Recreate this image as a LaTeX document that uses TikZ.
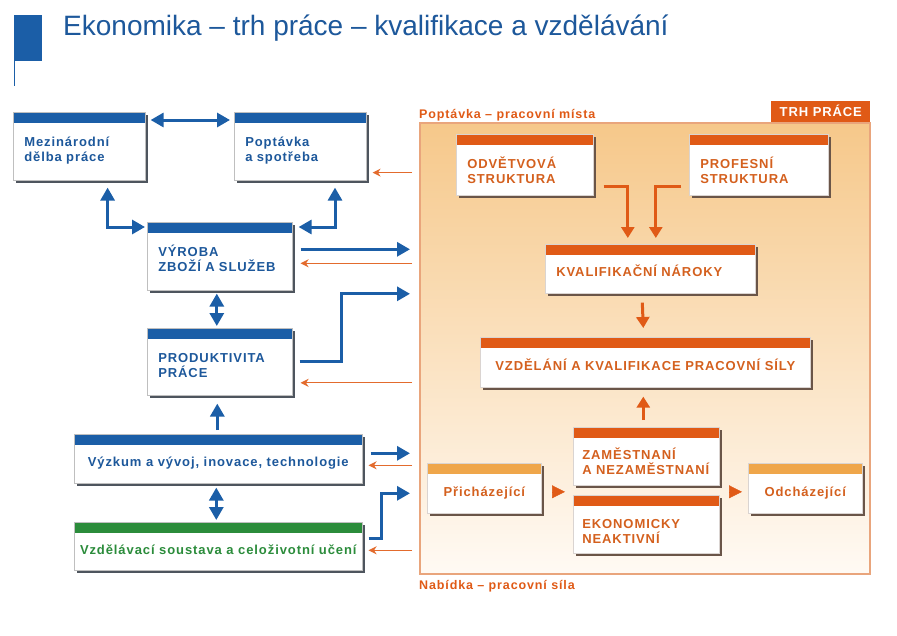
\documentclass[tikz,border=0pt]{standalone}
\usepackage{fontspec}
\setmainfont{Liberation Sans}
\newfontfamily\boxfont[LetterSpace=7]{Liberation Sans}
\usetikzlibrary{arrows.meta, calc, shadows}
\definecolor{cblue}{HTML}{1B5EA7}
\definecolor{ctext}{HTML}{1D589B}
\definecolor{cgreen}{HTML}{2B8C3B}
\definecolor{corange}{HTML}{E05A16}
\definecolor{clight}{HTML}{EFA64A}
\definecolor{cotext}{HTML}{D4601E}
\definecolor{cshadow}{HTML}{4E555E}
\definecolor{cbrown}{HTML}{6A5548}
\definecolor{cpanel}{HTML}{E9A57C}
\definecolor{ctop}{HTML}{F6C88A}
\definecolor{cmid}{HTML}{FBE6CB}
\definecolor{cbot}{HTML}{FFFAF4}
\tikzset{
  topgap/.store in=\boxgap, topgap=20pt,
  box/.style n args={2}{rectangle, anchor=north west, fill=white, draw=black!25, line width=0.6pt,
    inner xsep=11pt, inner ysep=0pt, align=left,
    font=\boxfont\bfseries\fontsize{13}{15}\selectfont,
    drop shadow={shadow xshift=3pt, shadow yshift=-3pt, fill=#2, opacity=1},
    path picture={\fill[#1] (path picture bounding box.north west) rectangle ([yshift=-11pt]path picture bounding box.north east);},
    execute at begin node={\rule{0pt}{\boxgap}},
    execute at end node={\rule[-4pt]{0pt}{0pt}}},
  bluebox/.style={box={cblue}{cshadow}, text=ctext},
  greenbox/.style={box={cgreen}{cshadow}, text=cgreen},
  orangebox/.style={box={corange}{cbrown}, text=cotext, draw=cbrown!25},
  lightbox/.style={box={clight}{cbrown}, text=cotext, draw=cbrown!25},
  panel/.style={rectangle, anchor=north west, draw=cpanel, line width=1.5pt, inner sep=0pt,
    top color=ctop, middle color=cmid, bottom color=cbot},
  side/.style={anchor=base west, inner sep=0pt, text=corange, font=\boxfont\bfseries\fontsize{12.5}{15}\selectfont},
  barrow/.style={draw=cblue, line width=3pt, -{Triangle[length=13pt,width=14pt]}},
  bboth/.style={draw=cblue, line width=3pt, {Triangle[length=13pt,width=14pt]}-{Triangle[length=13pt,width=14pt]}},
  oback/.style={draw=corange!90!white, line width=1.2pt, -{Stealth[length=8pt,width=8pt]}},
  oarrow/.style={draw=corange, line width=3pt, -{Triangle[length=11pt,width=13pt]}},
  otri/.style={draw=corange, line width=0.5pt, -{Triangle[length=13pt,width=13pt]}},
}
\begin{document}
\begin{tikzpicture}[x=1pt, y=-1pt]
  \useasboundingbox[fill=white] (0,0) rectangle (897,635);
  % title
  \fill[cblue] (14,15) rectangle (42,61);
  \draw[cblue, line width=1pt] (14.5,61) -- (14.5,86);
  \node[anchor=base west, inner sep=0pt, text=ctext, font=\fontsize{28}{32}\selectfont] (title) at (63,35)
    {Ekonomika – trh práce – kvalifikace a vzdělávání};

  % labour market panel
  \node[panel, minimum width=450pt, minimum height=451pt] (trh) at (419,122) {};
  \node[anchor=south east, fill=corange, text=white, inner sep=0pt, minimum width=99pt, minimum height=21pt,
    font=\boxfont\bfseries\fontsize{13}{15}\selectfont] (trhlab) at (trh.north east) {TRH PRÁCE};
  \node[side] (poptlab) at ($(trh.north west)+(0,4pt)$) {Poptávka – pracovní místa};
  \node[side] (nablab) at ($(trh.south west)+(0,-15pt)$) {Nabídka – pracovní síla};

  % left boxes
  \node[bluebox, text width=110pt, minimum height=68pt] (mez) at (13,112) {Mezinárodní\\dělba práce};
  \node[bluebox, text width=110pt, minimum height=68pt] (popt) at (234,112) {Poptávka\\a spotřeba};
  \node[bluebox, text width=123pt, minimum height=68pt] (vyr) at (147,222) {VÝROBA\\ZBOŽÍ A SLUŽEB};
  \node[bluebox, text width=123pt, minimum height=67pt] (prod) at (147,328) {PRODUKTIVITA\\PRÁCE};
  \node[bluebox, align=center, minimum width=288pt, minimum height=49pt] (vyz) at (74,434)
    {Výzkum a vývoj, inovace, technologie};
  \node[greenbox, align=center, inner xsep=3pt, minimum width=288pt, minimum height=48pt] (vzd) at (74,522)
    {Vzdělávací soustava a celoživotní učení};

  % boxes in the panel
  \node[orangebox, topgap=26pt, text width=115pt, minimum height=61pt] (odv) at (456,134) {ODVĚTVOVÁ\\STRUKTURA};
  \node[orangebox, topgap=26pt, text width=117pt, minimum height=61pt] (prof) at (689,134) {PROFESNÍ\\STRUKTURA};
  \node[orangebox, text width=188pt, minimum height=49pt] (kval) at (545,244) {KVALIFIKAČNÍ NÁROKY};
  \node[orangebox, align=center, minimum width=330pt, minimum height=50pt] (vzdk) at (480,337)
    {VZDĚLÁNÍ A KVALIFIKACE PRACOVNÍ SÍLY};
  \node[orangebox, topgap=26pt, inner xsep=9pt, text width=128pt, minimum height=58pt] (zam) at (573,427)
    {ZAMĚSTNANÍ\\A~NEZAMĚSTNANÍ};
  \node[orangebox, topgap=27pt, inner xsep=9pt, text width=128pt, minimum height=58pt] (eko) at (573,495)
    {EKONOMICKY\\NEAKTIVNÍ};
  \node[lightbox, align=center, minimum width=114pt, minimum height=50pt] (prich) at (427,463) {Přicházející};
  \node[lightbox, align=center, minimum width=114pt, minimum height=50pt] (odch) at (748,463) {Odcházející};

  % links among the left boxes
  \draw[bboth] ([shift={(5pt,-8pt)}]mez.north east) -- ([shift={(-4pt,-8pt)}]popt.north west);
  \draw[bboth] ([shift={(-38pt,-7pt)}]mez.south east) |- ([shift={(-2pt,-5pt)}]vyr.north west);
  \draw[bboth] ([shift={(101pt,-7pt)}]popt.south west) |- ([shift={(6pt,-5pt)}]vyr.north east);
  \draw[bboth] ([shift={(-3pt,-3pt)}]vyr.south) -- ([shift={(-3pt,2pt)}]prod.north);
  \draw[barrow] ([shift={(-1pt,4pt)}]vyz.north) -- ([shift={(-2.5pt,-8pt)}]prod.south);
  \draw[bboth] ([shift={(-2pt,-4pt)}]vyz.south) -- ([shift={(-2pt,2pt)}]vzd.north);

  % to and from the labour market
  \draw[oback] ($(popt.south east -| trh.west)+(-7pt,8pt)$) -- ($(popt.south east)+(6pt,8pt)$);
  \draw[barrow] ($(vyr.east)+(8pt,7pt)$) -- ($(vyr.east -| trh.west)+(-9pt,7pt)$);
  \draw[oback] ($(vyr.east -| trh.west)+(-7pt,-7pt)$) -- ($(vyr.east)+(8pt,-7pt)$);
  \draw[barrow] ($(prod.east)+(7pt,0)$) -- ++(42pt,0) |- ($(prod.east -| trh.west)+(-9pt,68pt)$);
  \draw[oback] ($(prod.east -| trh.west)+(-7pt,-21pt)$) -- ($(prod.east)+(8pt,-21pt)$);
  \draw[barrow] ($(vyz.east)+(8pt,5.5pt)$) -- ($(vyz.east -| trh.west)+(-9pt,5.5pt)$);
  \draw[oback] ($(vyz.east -| trh.west)+(-7pt,-6.5pt)$) -- ($(vyz.east)+(6pt,-6.5pt)$);
  \draw[barrow] ($(vzd.east)+(6pt,8pt)$) -- ++(13pt,0) |- ($(vzd.east -| trh.west)+(-9pt,53pt)$);
  \draw[oback] ($(vzd.east -| trh.west)+(-7pt,-4pt)$) -- ($(vzd.east)+(6pt,-4pt)$);

  % inside the panel
  \draw[oarrow] ($(odv.east)+(10pt,-21.5pt)$) -| ($(kval.north)+(-22.5pt,6pt)$);
  \draw[oarrow] ($(prof.west)+(-8pt,-21.5pt)$) -| ($(kval.north)+(5.5pt,6pt)$);
  \draw[oarrow] ($(kval.south)+(-8pt,-9pt)$) -- ($(vzdk.north)+(-2pt,9pt)$);
  \draw[oarrow] ($(zam.north)+(-3pt,7pt)$) -- ($(vzdk.south)+(-2pt,-9pt)$);
  \draw[otri] ($(prich.east)+(11pt,-3.5pt)$) -- ($(zam.west |- prich.east)+(-8pt,-3.5pt)$);
  \draw[otri] ($(zam.east |- odch.west)+(10pt,-3.5pt)$) -- ($(odch.west)+(-6pt,-3.5pt)$);
\end{tikzpicture}
\end{document}
